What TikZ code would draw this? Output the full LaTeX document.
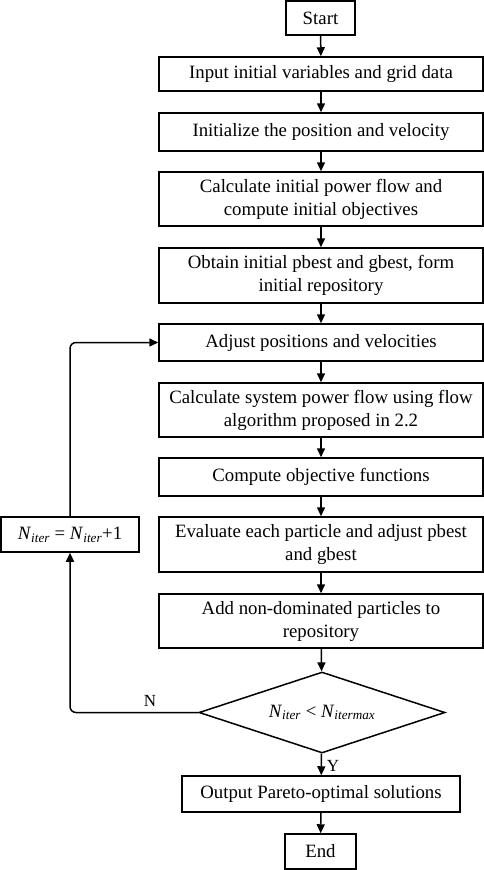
\documentclass[tikz,border=0pt]{standalone}
\usepackage{fontspec}
\setmainfont{Liberation Serif}
\usetikzlibrary{shapes.geometric,arrows.meta}

\begin{document}
\begin{tikzpicture}
        [x=1pt,y=-1pt,
         box/.style={draw,shape=rectangle,inner sep=0,minimum width=324pt,align=center,font=\fontsize{18.8}{23}\selectfont},
         decision/.style={draw,shape=diamond,inner sep=0,aspect=3.04,minimum width=246pt,minimum height=81pt,font=\fontsize{18.8}{23}\selectfont},
         lbl/.style={inner sep=0,font=\fontsize{17}{20}\selectfont},
         every path/.style={line width=1.5pt, black}, >={Triangle[length=9pt,width=8pt]}]

        \useasboundingbox (0,0) rectangle (484,870);

        \node[box,minimum width=69pt,minimum height=34pt] (start) at (320.5, 18) {Start};
        \node[box,minimum height=34pt] (input) at (321, 74) {Input initial variables and grid data};
        \node[box,minimum height=38pt] (init) at (321, 132) {Initialize the position and velocity};
        \node[box,minimum height=54pt] (calc) at (321, 199) {Calculate initial power flow and\\compute initial objectives};
        \node[box,minimum height=55pt] (obtain) at (321, 275.5) {Obtain initial pbest and gbest, form\\initial repository};
        \node[box,minimum height=37pt] (adjust) at (321, 342.5) {Adjust positions and velocities};
        \node[box,minimum height=54pt] (flow) at (321, 410) {Calculate system power flow using flow\\algorithm proposed in 2.2};
        \node[box,minimum height=38pt] (obj) at (321, 477) {Compute objective functions};
        \node[box,minimum height=55pt] (eval) at (321, 544.5) {Evaluate each particle and adjust pbest\\and gbest};
        \node[box,minimum height=54pt] (add) at (321, 621) {Add non-dominated particles to\\repository};
        \node[decision] (check) at (322, 712.5) {\textit{N}\textsubscript{\textit{iter}} < \textit{N}\textsubscript{\textit{itermax}}};
        \node[box,minimum width=278pt,minimum height=36pt] (output) at (321, 794) {Output Pareto-optimal solutions};
        \node[box,minimum width=71pt,minimum height=35pt] (finish) at (320.5, 851.5) {End};
        \node[box,minimum width=138pt,minimum height=35pt] (iter) at (70, 534.5) {\textit{N}\textsubscript{\textit{iter}} = \textit{N}\textsubscript{\textit{iter}}+1};

        \node[lbl] (no) at (150, 701) {N};
        \node[lbl] (yes) at (333, 766) {Y};

        \draw[->] (start) -- (input);
        \draw[->] (input) -- (init);
        \draw[->] (init) -- (calc);
        \draw[->] (calc) -- (obtain);
        \draw[->] (obtain) -- (adjust);
        \draw[->] (adjust) -- (flow);
        \draw[->] (flow) -- (obj);
        \draw[->] (obj) -- (eval);
        \draw[->] (eval) -- (add);
        \draw[->] (add) -- (check);
        \draw[->] (check) -- (output);
        \draw[->] (output) -- (finish);
        \draw[->,rounded corners=6pt] (check.west) -| (iter.south);
        \draw[->,rounded corners=6pt] (iter.north) |- (adjust.west);
      \end{tikzpicture}
\end{document}
